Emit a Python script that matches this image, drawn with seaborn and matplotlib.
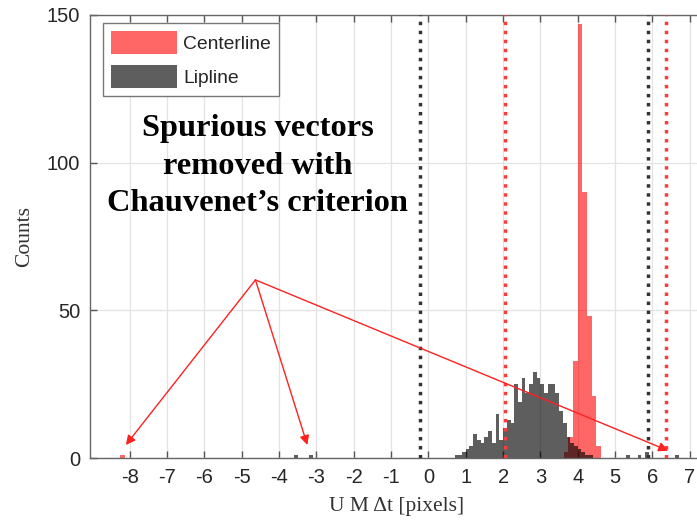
import numpy as np
import pandas as pd
import matplotlib
matplotlib.use("Agg")
import matplotlib.pyplot as plt
import seaborn as sns

# ---------------- data ----------------
# Centerline histogram (bin width 0.125)
center_bins = [-8.25, 3.6875, 3.8125, 3.9375, 4.0625, 4.1875, 4.3125, 4.4375, 4.5625]
center_counts = [1, 2, 7, 33, 147, 90, 48, 21, 4]

# Lipline histogram (bin width 0.1)
lip_bins = [-3.55, -3.15,
            0.75, 0.85, 0.95, 1.05, 1.15, 1.25, 1.35, 1.45, 1.55, 1.65,
            1.75, 1.85, 1.95, 2.05, 2.15, 2.25, 2.35, 2.45, 2.55, 2.65,
            2.75, 2.85, 2.95, 3.05, 3.15, 3.25, 3.35, 3.45, 3.55, 3.65,
            3.75, 3.85, 3.95, 4.05, 4.15, 4.25, 4.35,
            5.35, 5.65, 5.85, 6.65]
lip_counts = [1, 1,
              1, 1, 2, 3, 4, 8, 6, 5, 7, 9,
              5, 15, 6, 10, 13, 12, 25, 19, 27, 22,
              25, 29, 27, 25, 22, 25, 25, 22, 16, 12,
              7, 5, 4, 3, 2, 1, 1,
              1, 1, 2, 1]

# Chauvenet limits
lip_limits = [-0.22, 5.88]
center_limits = [2.06, 6.36]

x_ticks = list(range(-8, 8))
y_ticks = [0, 50, 100, 150]

annot_text = "Spurious vectors\nremoved with\nChauvenet\u2019s criterion"
annot_text_pos = (-4.57, 98.8)
arrow_origin = (-4.63, 60.3)
arrow_targets = [(-8.1, 4.4), (-3.24, 4.4), (6.42, 2.5)]

# ---------------- figure ----------------
sns.set_theme(style="white")
plt.rcParams['font.family'] = ['Liberation Sans', 'DejaVu Sans']
plt.rcParams['axes.unicode_minus'] = False

W, H = 697, 524
fig = plt.figure(figsize=(W / 100, H / 100), dpi=100)
ax = fig.add_axes([90 / W, (H - 458) / H, (704 - 90) / W, (458 - 15) / H])

center_edges = [float(v) for v in np.round(np.arange(-8.375, 4.626, 0.125), 4)]
lip_edges = [float(v) for v in np.round(np.arange(-3.6, 6.71, 0.1), 4)]

cdf = pd.DataFrame({"x": center_bins, "w": center_counts})
ldf = pd.DataFrame({"x": lip_bins, "w": lip_counts})

sns.histplot(data=cdf, x="x", weights="w", bins=center_edges, ax=ax,
             color=(1.0, 0.0, 0.0), alpha=0.6, edgecolor="none", linewidth=0,
             label="Centerline")
sns.histplot(data=ldf, x="x", weights="w", bins=lip_edges, ax=ax,
             color=(0.0, 0.0, 0.0), alpha=0.63, edgecolor="none", linewidth=0,
             label="Lipline")

for v in lip_limits:
    ax.axvline(v, color="#333333", lw=2.5, linestyle=(0, (1, 1.6)), zorder=3)
for v in center_limits:
    ax.axvline(v, color="#ff3b3b", lw=2.5, linestyle=(0, (1, 1.6)), zorder=3)

ax.set_xlim(-9.06, 7.38)
ax.set_ylim(0, 150)
ax.set_xticks(x_ticks)
ax.set_yticks(y_ticks)
ax.grid(True, color="#e3e3e3", lw=0.9)
ax.set_axisbelow(True)
ax.tick_params(direction="in", length=5, width=1, color="#555555",
               labelsize=14.5, top=True, bottom=True, left=True, right=False,
               labeltop=False, pad=7, labelcolor="#262626")
for s in ["left", "bottom", "top"]:
    ax.spines[s].set_color("#666666")
    ax.spines[s].set_linewidth(1.0)
ax.spines["right"].set_visible(False)

ax.set_xlabel("U M \u0394t [pixels]", family=["Liberation Serif", "DejaVu Serif"],
              fontsize=15.5, color="#333333")
ax.set_ylabel("Counts", family=["Liberation Serif", "DejaVu Serif"],
              fontsize=15.5, color="#333333")
ax.xaxis.set_label_coords(0.5, -(497 - 458) / (458 - 15))
ax.yaxis.set_label_coords(-(90 - 34) / (704 - 90), 0.5)

leg = ax.legend(loc="upper left", bbox_to_anchor=((103 - 90) / 614, (458 - 23) / 443),
                borderaxespad=0, fontsize=13.9, handlelength=3.45, handleheight=1.5,
                labelspacing=0.55, handletextpad=0.3, borderpad=0.4,
                fancybox=False, framealpha=1, edgecolor="#777777")
leg.get_frame().set_linewidth(1.0)

ax.text(annot_text_pos[0], annot_text_pos[1], annot_text,
        family=["Liberation Serif", "DejaVu Serif"], fontweight="bold",
        fontsize=23.3, ha="center", va="center", linespacing=1.38, color="black",
        zorder=5)

for tgt in arrow_targets:
    ax.annotate("", xy=tgt, xytext=arrow_origin,
                arrowprops=dict(arrowstyle="-|>", color="#ff2020", lw=1.0,
                                mutation_scale=14, shrinkA=0, shrinkB=0),
                zorder=6)

fig.savefig("out.png", dpi=100)
